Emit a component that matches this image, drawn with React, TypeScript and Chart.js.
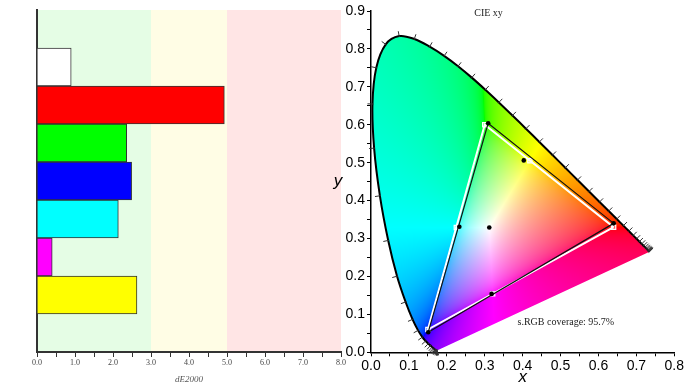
import React, { useEffect, useRef } from 'react';
import { Chart, registerables } from 'chart.js';

Chart.register(...registerables);

// ---------- Left chart data (dE2000 per patch) ----------
const patchLabels = ['', 'White', 'Red', 'Green', 'Blue', 'Cyan', 'Magenta', 'Yellow', ''];
const patchDeltaE = [null, 0.9, 4.93, 2.36, 2.49, 2.14, 0.4, 2.63, null];
const patchColors = ['#ffffff', '#ffffff', '#ff0000', '#00ff00', '#0000ff', '#00ffff', '#ff00ff', '#ffff00', '#ffffff'];
const bandEdges = [0, 3, 5, 8];
const bandColors = ['#e5fde5', '#fffde5', '#ffe5e5'];
const deTickLabels = ['0.0', '1.0', '2.0', '3.0', '4.0', '5.0', '6.0', '7.0', '8.0'];

// ---------- Right chart data (CIE 1931 xy) ----------
const locusNm = [380, 385, 390, 395, 400, 405, 410, 415, 420, 425, 430, 435, 440, 445, 450, 455, 460, 465, 470, 475, 480, 485, 490, 495, 500, 505, 510, 515, 520, 525, 530, 535, 540, 545, 550, 555, 560, 565, 570, 575, 580, 585, 590, 595, 600, 605, 610, 615, 620, 625, 630, 635, 640, 645, 650, 655, 660, 665, 670, 675, 680, 690, 700];
const locusX = [0.1741, 0.174, 0.1738, 0.1736, 0.1733, 0.173, 0.1726, 0.1721, 0.1714, 0.1703, 0.1689, 0.1669, 0.1644, 0.1611, 0.1566, 0.151, 0.144, 0.1355, 0.1241, 0.1096, 0.0913, 0.0687, 0.0454, 0.0235, 0.0082, 0.0039, 0.0139, 0.0389, 0.0743, 0.1142, 0.1547, 0.1929, 0.2296, 0.2658, 0.3016, 0.3373, 0.3731, 0.4087, 0.4441, 0.4788, 0.5125, 0.5448, 0.5752, 0.6029, 0.627, 0.6482, 0.6658, 0.6801, 0.6915, 0.7006, 0.7079, 0.714, 0.719, 0.723, 0.726, 0.7283, 0.73, 0.7311, 0.732, 0.7327, 0.7334, 0.7344, 0.7347];
const locusY = [0.005, 0.005, 0.0049, 0.0049, 0.0048, 0.0048, 0.0048, 0.0048, 0.0051, 0.0058, 0.0069, 0.0086, 0.0109, 0.0138, 0.0177, 0.0227, 0.0297, 0.0399, 0.0578, 0.0868, 0.1327, 0.2007, 0.295, 0.4127, 0.5384, 0.6548, 0.7502, 0.812, 0.8338, 0.8262, 0.8059, 0.7816, 0.7543, 0.7243, 0.6923, 0.6589, 0.6245, 0.5896, 0.5547, 0.5202, 0.4866, 0.4544, 0.4242, 0.3965, 0.3725, 0.3514, 0.334, 0.3197, 0.3083, 0.2993, 0.292, 0.2859, 0.2809, 0.277, 0.274, 0.2717, 0.27, 0.2689, 0.268, 0.2673, 0.2666, 0.2656, 0.2653];

// sRGB reference gamut (R, G, B, back to R) and reference secondaries
const srgbTriX = [0.64, 0.3, 0.15, 0.64];
const srgbTriY = [0.33, 0.6, 0.06, 0.33];
const srgbPointX = [0.64, 0.3, 0.15, 0.225, 0.419, 0.321];
const srgbPointY = [0.33, 0.6, 0.06, 0.329, 0.505, 0.154];

// measured gamut and measured points (R, G, B, C, Y, M, W)
const measTriX = [0.64, 0.309, 0.151, 0.64];
const measTriY = [0.34, 0.604, 0.053, 0.34];
const measPointX = [0.64, 0.309, 0.151, 0.233, 0.403, 0.318, 0.312];
const measPointY = [0.34, 0.604, 0.053, 0.331, 0.506, 0.154, 0.329];

const chartTitle = 'CIE xy';
const coverageText = 's.RGB coverage: 95.7%';
const xyTickLabels = ['0.0', '0.1', '0.2', '0.3', '0.4', '0.5', '0.6', '0.7', '0.8', '0.9'];

const SERIF = '"Liberation Serif", "Times New Roman", serif';
const SANS = '"Liberation Sans", Arial, sans-serif';

const toPts = (xs: number[], ys: number[]) => xs.map((x, i) => ({ x, y: ys[i] }));

function gammaEnc(c: number) {
  return c <= 0.0031308 ? 12.92 * c : 1.055 * Math.pow(c, 1 / 2.4) - 0.055;
}

function xyToRgb(x: number, y: number): [number, number, number] {
  if (y <= 0.0001) y = 0.0001;
  const X = x / y;
  const Y = 1;
  const Z = (1 - x - y) / y;
  let r = 3.2406 * X - 1.5372 * Y - 0.4986 * Z;
  let g = -0.9689 * X + 1.8758 * Y + 0.0415 * Z;
  let b = 0.0557 * X - 0.204 * Y + 1.057 * Z;
  const mn = Math.min(r, g, b);
  if (mn < 0) {
    r -= mn;
    g -= mn;
    b -= mn;
  }
  const mx = Math.max(r, g, b) || 1;
  return [gammaEnc(r / mx) * 255, gammaEnc(g / mx) * 255, gammaEnc(b / mx) * 255];
}

const bandPlugin = {
  id: 'bands',
  beforeDraw(chart: any) {
    const { ctx, chartArea: a, scales } = chart;
    const xs = scales.x;
    ctx.save();
    for (let i = 0; i < bandColors.length; i++) {
      const x0 = xs.getPixelForValue(bandEdges[i]);
      const x1 = xs.getPixelForValue(bandEdges[i + 1]);
      ctx.fillStyle = bandColors[i];
      ctx.fillRect(x0, a.top, x1 - x0, a.bottom - a.top);
    }
    ctx.restore();
  },
  afterDraw(chart: any) {
    const { ctx, chartArea: a } = chart;
    ctx.save();
    ctx.font = `italic 9px ${SERIF}`;
    ctx.fillStyle = '#555';
    ctx.textAlign = 'center';
    ctx.textBaseline = 'middle';
    ctx.fillText('dE2000', (a.left + a.right) / 2, a.bottom + 28);
    ctx.restore();
  },
};

function locusPathOn(chart: any, ctx: CanvasRenderingContext2D) {
  const idx = chart.data.datasets.findIndex((d: any) => d.label === 'locus');
  const meta = chart.getDatasetMeta(idx);
  const line = meta.dataset;
  ctx.beginPath();
  let ok = false;
  try {
    if (line && typeof line.path === 'function') {
      if (typeof line.updateControlPoints === 'function') line.updateControlPoints(chart.chartArea, 'x');
      line.path(ctx);
      ok = true;
    }
  } catch (e) {
    ok = false;
  }
  if (!ok) {
    ctx.beginPath();
    meta.data.forEach((p: any, i: number) => (i === 0 ? ctx.moveTo(p.x, p.y) : ctx.lineTo(p.x, p.y)));
  }
  ctx.closePath();
}

const cieFillPlugin = {
  id: 'cieFill',
  beforeDatasetsDraw(chart: any) {
    const { ctx, chartArea: a, scales } = chart;
    const xs = scales.x;
    const ys = scales.y;
    const w = Math.ceil(a.right - a.left);
    const h = Math.ceil(a.bottom - a.top);
    const off = document.createElement('canvas');
    off.width = w;
    off.height = h;
    const octx = off.getContext('2d')!;
    const img = octx.createImageData(w, h);
    const d = img.data;
    for (let py = 0; py < h; py++) {
      const yv = ys.getValueForPixel(a.top + py + 0.5);
      for (let px = 0; px < w; px++) {
        const xv = xs.getValueForPixel(a.left + px + 0.5);
        const [r, g, b] = xyToRgb(xv, yv);
        const k = (py * w + px) * 4;
        d[k] = r;
        d[k + 1] = g;
        d[k + 2] = b;
        d[k + 3] = 255;
      }
    }
    octx.putImageData(img, 0, 0);
    ctx.save();
    locusPathOn(chart, ctx);
    ctx.clip();
    ctx.drawImage(off, a.left, a.top);
    ctx.restore();
  },
  afterDatasetsDraw(chart: any) {
    const { ctx, scales } = chart;
    const xs = scales.x;
    const ys = scales.y;
    const idx = chart.data.datasets.findIndex((dd: any) => dd.label === 'locus');
    const pts = chart.getDatasetMeta(idx).data;
    const wx = xs.getPixelForValue(0.3127);
    const wy = ys.getPixelForValue(0.329);
    ctx.save();
    ctx.strokeStyle = '#333';
    ctx.lineWidth = 1;
    for (let i = 0; i < pts.length; i++) {
      const p = pts[i];
      const pa = pts[Math.max(0, i - 1)];
      const pb = pts[Math.min(pts.length - 1, i + 1)];
      const tx = pb.x - pa.x;
      const ty = pb.y - pa.y;
      const L = Math.hypot(tx, ty);
      if (L < 1e-6) continue;
      let nx = -ty / L;
      let ny = tx / L;
      if ((p.x - wx) * nx + (p.y - wy) * ny < 0) {
        nx = -nx;
        ny = -ny;
      }
      ctx.beginPath();
      ctx.moveTo(p.x - nx * 1, p.y - ny * 1);
      ctx.lineTo(p.x + nx * 5, p.y + ny * 5);
      ctx.stroke();
    }
    ctx.restore();
  },
  afterDraw(chart: any) {
    const { ctx, chartArea: a, scales } = chart;
    const xs = scales.x;
    const ys = scales.y;
    ctx.save();
    ctx.fillStyle = '#222';
    ctx.textAlign = 'center';
    ctx.textBaseline = 'middle';
    ctx.font = `10px ${SERIF}`;
    ctx.fillText(chartTitle, xs.getPixelForValue(0.31), ys.getPixelForValue(0.894));
    ctx.fillText(coverageText, xs.getPixelForValue(0.514), ys.getPixelForValue(0.078));
    ctx.fillStyle = '#000';
    ctx.font = `italic 17px ${SANS}`;
    ctx.fillText('y', a.left - 33, (a.top + a.bottom) / 2);
    ctx.textBaseline = 'alphabetic';
    ctx.fillText('x', (a.left + a.right) / 2, a.bottom + 30);
    ctx.restore();
  },
};

export default function App() {
  const leftRef = useRef<HTMLCanvasElement>(null);
  const rightRef = useRef<HTMLCanvasElement>(null);

  useEffect(() => {
    const left = new Chart(leftRef.current!, {
      type: 'bar',
      data: {
        labels: patchLabels,
        datasets: [
          {
            label: 'dE2000',
            data: patchDeltaE as any,
            backgroundColor: patchColors,
            borderColor: '#333',
            borderWidth: 1,
            barPercentage: 1,
            categoryPercentage: 1,
          },
        ],
      },
      options: {
        indexAxis: 'y',
        responsive: false,
        animation: false,
        layout: { padding: { top: 10, right: 19, left: 0, bottom: 0 } },
        plugins: { legend: { display: false }, tooltip: { enabled: false } },
        scales: {
          x: {
            type: 'linear',
            min: 0,
            max: 8,
            afterFit: (s: any) => {
              s.height = 38;
            },
            ticks: {
              stepSize: 0.5,
              autoSkip: false,
              maxRotation: 0,
              padding: 1,
              color: '#444',
              font: { family: SERIF, size: 8 },
              callback: (_v: any, i: number) => (i % 2 === 0 ? deTickLabels[i / 2] : ''),
            },
            grid: { display: true, drawOnChartArea: false, drawTicks: true, tickLength: 5, color: '#333', lineWidth: 1 },
            border: { display: true, color: '#333', width: 2 },
          },
          y: {
            afterFit: (s: any) => {
              s.width = 37;
            },
            ticks: { display: false },
            grid: { display: false },
            border: { display: true, color: '#333', width: 2 },
          },
        },
      },
      plugins: [bandPlugin],
    });

    const right = new Chart(rightRef.current!, {
      type: 'scatter',
      data: {
        datasets: [
          {
            label: 'measuredPoints',
            data: toPts(measPointX, measPointY),
            pointRadius: 2.3,
            pointBackgroundColor: '#000',
            pointBorderColor: '#000',
            pointBorderWidth: 0,
            showLine: false,
          },
          {
            label: 'measured',
            data: toPts(measTriX, measTriY),
            showLine: true,
            borderColor: '#111',
            borderWidth: 1.2,
            pointRadius: 0,
          },
          {
            label: 'srgbPoints',
            data: toPts(srgbPointX, srgbPointY),
            pointStyle: 'rect',
            pointRadius: 3,
            pointBackgroundColor: 'rgba(255,255,255,0.35)',
            pointBorderColor: '#ffffff',
            pointBorderWidth: 1.2,
            showLine: false,
          },
          {
            label: 'srgb',
            data: toPts(srgbTriX, srgbTriY),
            showLine: true,
            borderColor: '#ffffff',
            borderWidth: 2,
            pointRadius: 0,
          },
          {
            label: 'locus',
            data: toPts(locusX, locusY),
            showLine: true,
            borderColor: '#000',
            borderWidth: 2,
            pointRadius: 0,
            tension: 0.35,
          },
        ],
      },
      options: {
        responsive: false,
        animation: false,
        layout: { padding: { top: 11, right: 18.7, left: 0, bottom: 0 } },
        plugins: { legend: { display: false }, tooltip: { enabled: false } },
        scales: {
          x: {
            type: 'linear',
            min: 0,
            max: 0.8,
            afterFit: (s: any) => {
              s.height = 37.7;
            },
            ticks: {
              stepSize: 0.05,
              autoSkip: false,
              maxRotation: 0,
              padding: 1,
              color: '#000',
              font: { family: SANS, size: 14 },
              callback: (_v: any, i: number) => (i % 2 === 0 ? xyTickLabels[i / 2] : ''),
            },
            grid: { display: true, drawOnChartArea: false, drawTicks: true, tickLength: 4, color: '#000', lineWidth: 1 },
            border: { display: true, color: '#000', width: 1.5 },
          },
          y: {
            type: 'linear',
            min: 0,
            max: 0.9,
            afterFit: (s: any) => {
              s.width = 46;
            },
            ticks: {
              stepSize: 0.05,
              autoSkip: false,
              padding: 2,
              color: '#000',
              font: { family: SANS, size: 14 },
              callback: (_v: any, i: number) => (i % 2 === 0 ? xyTickLabels[i / 2] : ''),
            },
            grid: { display: true, drawOnChartArea: false, drawTicks: true, tickLength: 4, color: '#000', lineWidth: 1 },
            border: { display: true, color: '#000', width: 1.5 },
          },
        },
      },
      plugins: [cieFillPlugin],
    });

    return () => {
      left.destroy();
      right.destroy();
    };
  }, []);

  return (
    <div style={{ position: 'fixed', left: 0, top: 0, width: 693, height: 390, background: '#ffffff' }}>
      <canvas ref={leftRef} width={360} height={390} style={{ position: 'absolute', left: 0, top: 0 }} />
      <canvas ref={rightRef} width={368} height={390} style={{ position: 'absolute', left: 325, top: 0 }} />
    </div>
  );
}
